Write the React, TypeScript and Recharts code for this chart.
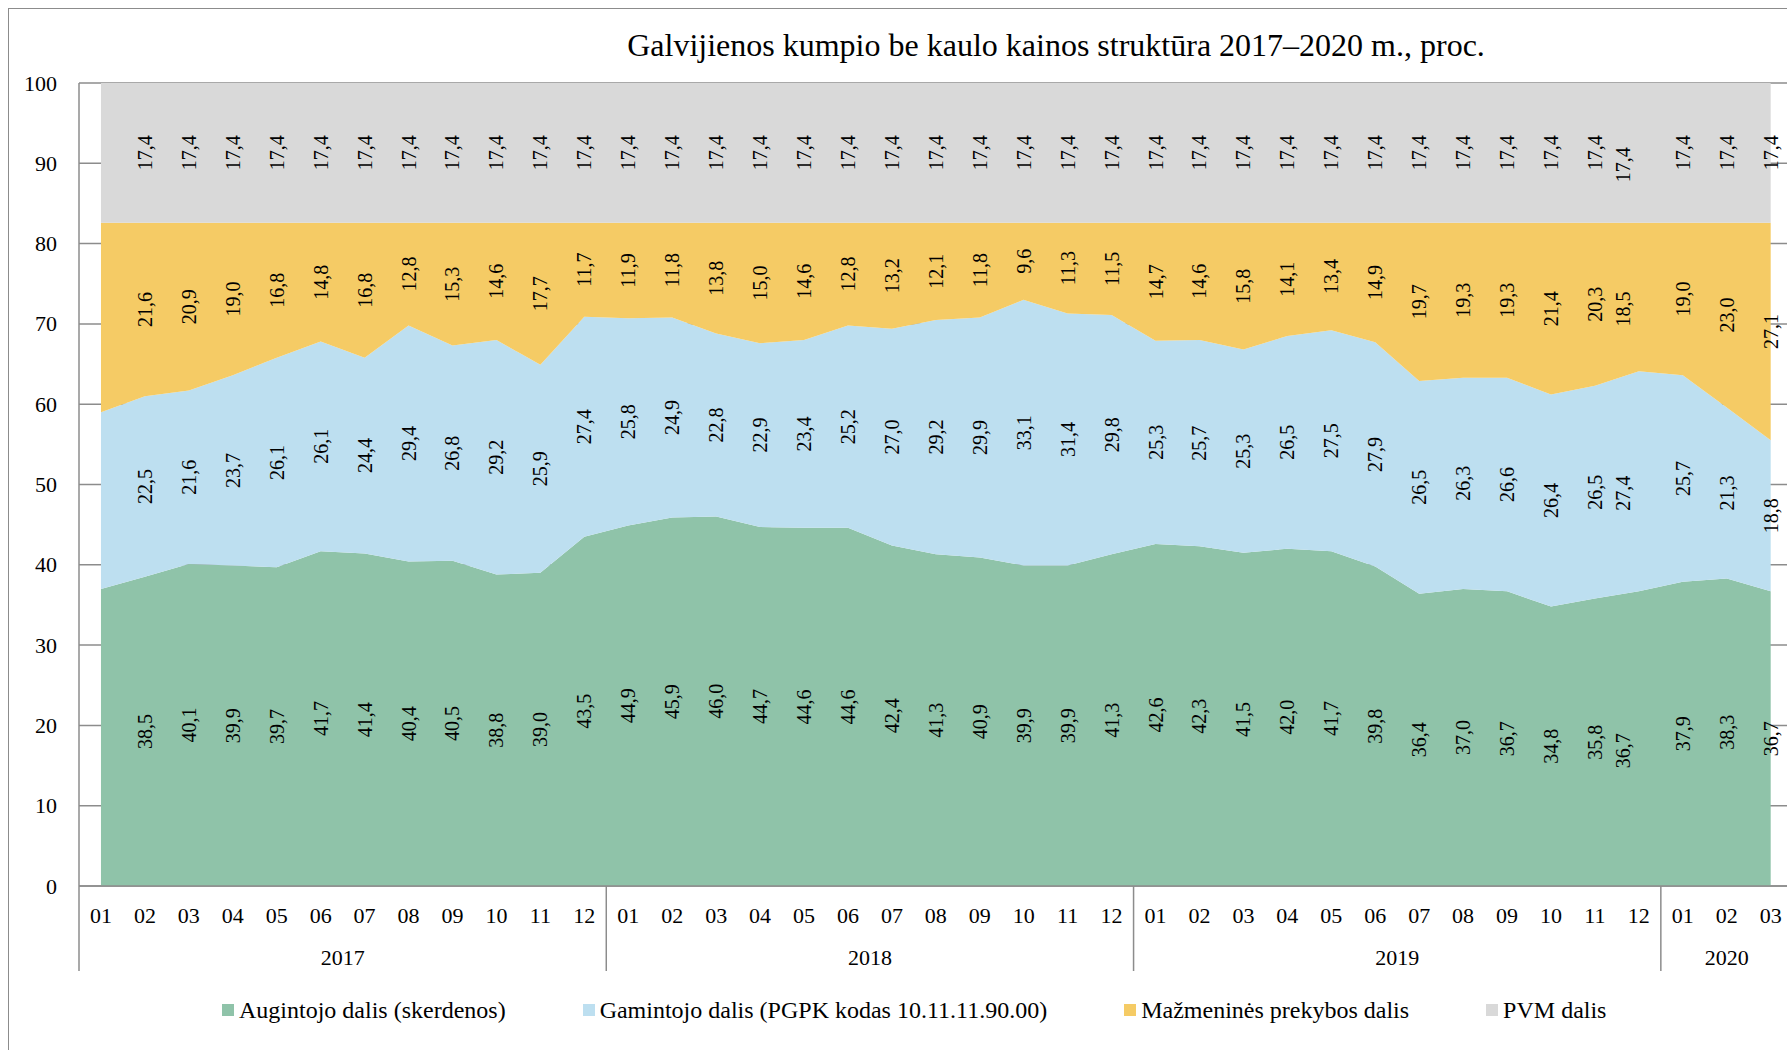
import React from 'react';
import { AreaChart, Area, XAxis, YAxis, CartesianGrid, LabelList } from 'recharts';

// months and years of the two-level category axis
const months = [
  '01', '02', '03', '04', '05', '06', '07', '08', '09', '10', '11', '12',
  '01', '02', '03', '04', '05', '06', '07', '08', '09', '10', '11', '12',
  '01', '02', '03', '04', '05', '06', '07', '08', '09', '10', '11', '12',
  '01', '02', '03',
];
const years = [
  '2017', '2017', '2017', '2017', '2017', '2017', '2017', '2017', '2017', '2017', '2017', '2017',
  '2018', '2018', '2018', '2018', '2018', '2018', '2018', '2018', '2018', '2018', '2018', '2018',
  '2019', '2019', '2019', '2019', '2019', '2019', '2019', '2019', '2019', '2019', '2019', '2019',
  '2020', '2020', '2020',
];

// price structure, %
const augintojo = [
  37.0, 38.5, 40.1, 39.9, 39.7, 41.7, 41.4, 40.4, 40.5, 38.8, 39.0, 43.5,
  44.9, 45.9, 46.0, 44.7, 44.6, 44.6, 42.4, 41.3, 40.9, 39.9, 39.9, 41.3,
  42.6, 42.3, 41.5, 42.0, 41.7, 39.8, 36.4, 37.0, 36.7, 34.8, 35.8, 36.7,
  37.9, 38.3, 36.7,
];
const gamintojo = [
  22.0, 22.5, 21.6, 23.7, 26.1, 26.1, 24.4, 29.4, 26.8, 29.2, 25.9, 27.4,
  25.8, 24.9, 22.8, 22.9, 23.4, 25.2, 27.0, 29.2, 29.9, 33.1, 31.4, 29.8,
  25.3, 25.7, 25.3, 26.5, 27.5, 27.9, 26.5, 26.3, 26.6, 26.4, 26.5, 27.4,
  25.7, 21.3, 18.8,
];
const mazmenine = [
  23.6, 21.6, 20.9, 19.0, 16.8, 14.8, 16.8, 12.8, 15.3, 14.6, 17.7, 11.7,
  11.9, 11.8, 13.8, 15.0, 14.6, 12.8, 13.2, 12.1, 11.8, 9.6, 11.3, 11.5,
  14.7, 14.6, 15.8, 14.1, 13.4, 14.9, 19.7, 19.3, 19.3, 21.4, 20.3, 18.5,
  19.0, 23.0, 27.1,
];
const pvm = [
  17.4, 17.4, 17.4, 17.4, 17.4, 17.4, 17.4, 17.4, 17.4, 17.4, 17.4, 17.4,
  17.4, 17.4, 17.4, 17.4, 17.4, 17.4, 17.4, 17.4, 17.4, 17.4, 17.4, 17.4,
  17.4, 17.4, 17.4, 17.4, 17.4, 17.4, 17.4, 17.4, 17.4, 17.4, 17.4, 17.4,
  17.4, 17.4, 17.4,
];
const yTicks = [0, 10, 20, 30, 40, 50, 60, 70, 80, 90, 100];

const series = [
  { key: 'augintojo', name: 'Augintojo dalis (skerdenos)', color: '#8fc3a9', values: augintojo },
  { key: 'gamintojo', name: 'Gamintojo dalis (PGPK kodas 10.11.11.90.00)', color: '#bddff0', values: gamintojo },
  { key: 'mazmenine', name: 'Mažmeninės prekybos dalis', color: '#f5cb65', values: mazmenine },
  { key: 'pvm', name: 'PVM dalis', color: '#d9d9d9', values: pvm },
];

const data = months.map((m, i) => ({
  key: `${years[i]}-${m}`,
  augintojo: augintojo[i],
  gamintojo: gamintojo[i],
  mazmenine: mazmenine[i],
  pvm: pvm[i],
}));

const FONT = '"Liberation Serif", "Times New Roman", serif';
const GRAY = '#8c8c8c';
const W = 1800;
const H = 1041;
const PLOT_LEFT = 70;
const PLOT_TOP = 74;
const PLOT_H = 803;
const STEP = 43.94;
const PLOT_W = STEP * months.length;
const X_AXIS_H = 100;
const PX_PER_UNIT = PLOT_H / 100;

// first month has no labels; Dec 2019 labels sit a bit off in the original
const UNLABELLED = [0];
const NUDGE: Record<number, { dx: number; dy: number }> = { 35: { dx: -16, dy: 12 } };

const fmt = (v: number) => v.toFixed(1).replace('.', ',');

const makeLabel = (values: number[]) => (props: any) => {
  const vb = props.viewBox || {};
  const x = props.x ?? vb.x;
  const y = props.y ?? vb.y;
  const i = props.index;
  if (x == null || y == null || UNLABELLED.includes(i)) return null;
  const v = values[i];
  const n = NUDGE[i] || { dx: 0, dy: 0 };
  const cy = y + (v * PX_PER_UNIT) / 2;
  return (
    <text
      key={`l-${i}`}
      transform={`translate(${x + n.dx},${cy + n.dy}) rotate(-90)`}
      textAnchor="middle"
      dominantBaseline="central"
      fontSize={20}
      fontFamily={FONT}
      fill="#000"
    >
      {fmt(v)}
    </text>
  );
};

const MonthYearTick = (props: any) => {
  const { x, y, payload } = props;
  const i = payload?.index ?? props.index;
  const first = i === 0 || years[i] !== years[i - 1];
  const count = years.filter((yy) => yy === years[i]).length;
  const cx = x + ((count - 1) * STEP) / 2;
  return (
    <g>
      <text x={x} y={y + 29} textAnchor="middle" dominantBaseline="central" fontSize={22} fontFamily={FONT} fill="#000">
        {months[i]}
      </text>
      {first && <line x1={x - STEP / 2} x2={x - STEP / 2} y1={y} y2={y + 85} stroke={GRAY} strokeWidth={1.5} />}
      {first && (
        <text x={cx} y={y + 71} textAnchor="middle" dominantBaseline="central" fontSize={22} fontFamily={FONT} fill="#000">
          {years[i]}
        </text>
      )}
    </g>
  );
};

const ValueTick = (props: any) => {
  const { x, y, payload } = props;
  return (
    <text x={x} y={y} textAnchor="end" dominantBaseline="central" fontSize={22} fontFamily={FONT} fill="#000">
      {payload.value}
    </text>
  );
};

const App: React.FC = () => {
  return (
    <div
      style={{
        position: 'fixed',
        left: 8,
        top: 8,
        width: 1778,
        height: H,
        borderLeft: `1px solid ${GRAY}`,
        borderTop: `1px solid ${GRAY}`,
        overflow: 'hidden',
        background: '#fff',
        fontFamily: FONT,
      }}
    >
      <style>{'html{overflow:hidden}'}</style>
      <div
        style={{
          position: 'absolute',
          left: 1047,
          top: 20,
          transform: 'translateX(-50%)',
          whiteSpace: 'nowrap',
          fontSize: 32,
          lineHeight: '32px',
          color: '#000',
        }}
      >
        Galvijienos kumpio be kaulo kainos struktūra 2017–2020 m., proc.
      </div>
      <AreaChart
        width={W}
        height={H}
        data={data}
        margin={{ top: PLOT_TOP, right: W - PLOT_LEFT - PLOT_W, bottom: H - PLOT_TOP - PLOT_H - X_AXIS_H, left: 0 }}
      >
        <CartesianGrid vertical={false} stroke={GRAY} strokeWidth={1.5} />
        <XAxis
          dataKey="key"
          type="category"
          interval={0}
          height={X_AXIS_H}
          padding={{ left: STEP / 2, right: STEP / 2 }}
          tickLine={false}
          tickSize={0}
          tickMargin={0}
          axisLine={{ stroke: GRAY, strokeWidth: 1.5 }}
          tick={<MonthYearTick />}
        />
        <YAxis
          type="number"
          domain={[0, 100]}
          ticks={yTicks}
          width={PLOT_LEFT}
          interval={0}
          tickLine={false}
          tickSize={0}
          tickMargin={22}
          axisLine={{ stroke: GRAY, strokeWidth: 1.5 }}
          tick={<ValueTick />}
        />
        {series.map((s) => (
          <Area
            key={s.key}
            type="linear"
            dataKey={s.key}
            name={s.name}
            stackId="1"
            stroke="none"
            fill={s.color}
            fillOpacity={1}
            isAnimationActive={false}
          >
            <LabelList content={makeLabel(s.values)} />
          </Area>
        ))}
      </AreaChart>
      <div
        style={{
          position: 'absolute',
          left: 213,
          top: 986,
          height: 30,
          display: 'flex',
          alignItems: 'center',
          gap: 77,
          fontSize: 24,
          color: '#000',
          whiteSpace: 'nowrap',
        }}
      >
        {series.map((s) => (
          <div key={s.key} style={{ display: 'flex', alignItems: 'center' }}>
            <span style={{ display: 'inline-block', width: 12, height: 12, background: s.color, marginRight: 5 }} />
            <span>{s.name}</span>
          </div>
        ))}
      </div>
    </div>
  );
};

export default App;
